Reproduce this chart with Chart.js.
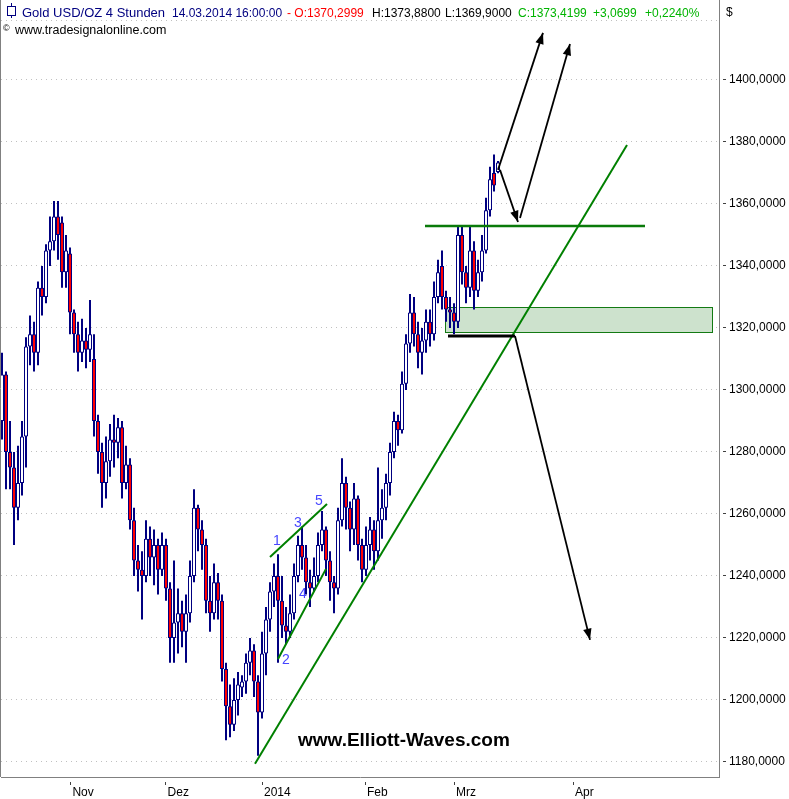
<!DOCTYPE html>
<html lang="de">
<head>
    <meta charset="UTF-8">
    <title>Gold USD/OZ 4 Stunden</title>
    <script src="https://cdn.jsdelivr.net/npm/chart.js"></script>
    <style>
        body { margin: 0; background: #fff; }
        #wrap { position: relative; width: 789px; height: 799px; overflow: hidden; font-family: 'Liberation Sans', Arial, sans-serif; font-size: 12px; }
        #chart { position: absolute; left: 0; top: 0; }
        .txt { position: absolute; white-space: pre; line-height: 1; }
        .wm { font-size: 19px; font-weight: bold; color: #000; }
        .icon { position: absolute; left: 7px; top: 3px; width: 10px; height: 15px; }
        .icon .w { position: absolute; left: 4px; top: 0; width: 1px; height: 15px; background: #000080; }
        .icon .b { position: absolute; left: 0; top: 3px; width: 7px; height: 8px; border: 1px solid #000080; background: #fff; }
    </style>
</head>
<body>
<div id="wrap">
    <canvas id="chart" width="789" height="799"></canvas>
    <div class="icon"><span class="w"></span><span class="b"></span></div>
    <div class="txt" style="left:22px;top:6px;font-size:13px;color:#000080">Gold USD/OZ 4 Stunden</div>
    <div class="txt" style="left:172px;top:7px;color:#000080">14.03.2014 16:00:00</div>
    <div class="txt" style="left:287px;top:7px;color:#ff0000">- O:1370,2999</div>
    <div class="txt" style="left:372px;top:7px;color:#000">H:1373,8800</div>
    <div class="txt" style="left:445px;top:7px;color:#000">L:1369,9000</div>
    <div class="txt" style="left:518px;top:7px;color:#00b400">C:1373,4199</div>
    <div class="txt" style="left:593px;top:7px;color:#00b400">+3,0699</div>
    <div class="txt" style="left:645px;top:7px;color:#00b400">+0,2240%</div>
    <div class="txt" style="left:726px;top:6px;color:#000">$</div>
    <div class="txt" style="left:3px;top:24px;font-size:9px;color:#000">©</div>
    <div class="txt" style="left:15px;top:24px;font-size:12.5px;color:#000">www.tradesignalonline.com</div>
    <div class="txt wm" style="left:298px;top:730px">www.Elliott-Waves.com</div>
</div>
<script>
    // 4h candles, one entry every few bars
    const candleOpen = [
        1290,1305,1280,1275,1262,1270,1285,1314,1318,1312,
        1333,1330,1345,1348,1356,1354,1338,1344,1325,1318,
        1312,1316,1313,1310,1290,1280,1270,1277,1284,1283,
        1288,1270,1276,1258,1245,1242,1240,1252,1246,1250,
        1242,1250,1236,1220,1225,1228,1222,1228,1240,1262,
        1255,1250,1232,1228,1238,1232,1210,1198,1192,1200,
        1204,1206,1212,1216,1206,1196,1215,1226,1235,1240,
        1232,1224,1222,1228,1240,1250,1246,1238,1236,1240,
        1250,1255,1245,1238,1236,1258,1270,1262,1255,1265,
        1250,1242,1250,1255,1248,1258,1262,1270,1280,1290,
        1287,1302,1315,1325,1318,1312,1316,1322,1318,1330,
        1340,1330,1326,1325,1322,1350,1338,1333,1345,1332,
        1338,1345,1358,1370,1370.2999
    ];
    const candleHigh = [
        1312,1306,1290,1280,1282,1290,1317,1324,1322,1335,
        1340,1347,1356,1361,1361,1356,1350,1346,1326,1322,
        1323,1320,1329,1318,1292,1283,1285,1289,1292,1291,
        1290,1282,1278,1262,1250,1248,1258,1256,1255,1252,
        1254,1252,1238,1245,1236,1232,1234,1245,1268,1263,
        1258,1252,1240,1244,1241,1234,1212,1205,1207,1209,
        1208,1215,1220,1218,1208,1222,1230,1238,1244,1247,
        1240,1230,1234,1244,1253,1256,1250,1242,1246,1254,
        1261,1256,1248,1240,1262,1278,1272,1264,1270,1266,
        1252,1256,1259,1258,1275,1268,1273,1283,1293,1292,
        1306,1318,1331,1330,1322,1320,1326,1326,1335,1342,
        1345,1332,1330,1328,1353,1353,1340,1353,1348,1342,
        1350,1362,1372,1376,1373.88
    ];
    const candleLow = [
        1284,1268,1268,1250,1258,1266,1275,1308,1306,1308,
        1324,1328,1340,1345,1342,1333,1333,1318,1312,1306,
        1309,1307,1309,1285,1273,1262,1265,1272,1275,1278,
        1265,1268,1255,1240,1235,1226,1238,1240,1237,1234,
        1240,1232,1212,1212,1215,1217,1212,1225,1238,1248,
        1242,1228,1222,1226,1226,1206,1187,1188,1190,1195,
        1201,1202,1208,1201,1182,1194,1208,1222,1230,1212,
        1220,1218,1220,1226,1238,1242,1234,1230,1235,1238,
        1248,1240,1232,1228,1234,1256,1255,1248,1250,1245,
        1238,1240,1245,1242,1245,1252,1258,1266,1278,1282,
        1286,1300,1312,1314,1307,1305,1312,1314,1316,1328,
        1326,1322,1320,1318,1320,1334,1328,1330,1326,1330,
        1335,1344,1356,1364,1369.9
    ];
    const candleClose = [
        1305,1280,1275,1262,1270,1285,1314,1318,1312,1333,
        1330,1345,1348,1356,1350,1338,1345,1325,1318,1312,
        1316,1313,1318,1290,1280,1270,1277,1284,1283,1288,
        1270,1276,1258,1245,1242,1240,1252,1246,1250,1242,
        1250,1236,1220,1225,1228,1222,1228,1240,1262,1255,
        1250,1232,1228,1238,1232,1210,1198,1192,1200,1205,
        1206,1212,1216,1206,1196,1215,1226,1235,1240,1232,
        1224,1222,1228,1240,1250,1246,1238,1236,1240,1250,
        1255,1245,1238,1236,1258,1270,1262,1255,1265,1250,
        1242,1250,1255,1248,1258,1262,1270,1280,1290,1287,
        1302,1315,1325,1318,1312,1316,1322,1318,1330,1338,
        1330,1326,1325,1322,1350,1338,1333,1345,1332,1338,
        1345,1358,1368,1366,1373.4199
    ];

    // axis labels
    const monthLabels = ['Nov', 'Dez', '2014', 'Feb', 'Mrz', 'Apr'];
    const monthTicks = [17.1, 40.9, 65, 90.75, 113, 142.75];
    const priceTicks = [1180, 1200, 1220, 1240, 1260, 1280, 1300, 1320, 1340, 1360, 1380, 1400];

    // drawings, in (bar, price)
    const trendLine = [[63.25, 1179.4], [156.25, 1379.0]];
    const resistLine = [[105.75, 1352.9], [160.75, 1352.9]];
    const wedgeTop = [[67, 1246.1], [81.25, 1263.2]];
    const wedgeBottom = [[69, 1213.2], [81, 1242.3]];
    const zoneBars = [110.75, 177.5];
    const zonePrices = [1318.7, 1326.8];
    const breakLine = [[111.5, 1317.4], [128.25, 1317.4]];
    const arrows = [
        [[124, 1371.0], [135.25, 1415.2]],
        [[124.5, 1371.0], [129, 1354.2]],
        [[129.5, 1355.5], [142, 1411.6]],
        [[128.25, 1317.4], [147, 1219.4]]
    ];
    const waveLabels = ['1', '2', '3', '4', '5'];
    const wavePos = [[68.75, 1251.3], [71, 1212.9], [74, 1257.1], [75.25, 1234.2], [79.25, 1264.2]];

    const NAVY = '#000080';
    const GREEN = '#0a7a0a';

    const bars = candleOpen.map((_, i) => i);
    const bodies = bars.map(i => ({ x: i, y: [candleOpen[i], candleClose[i]] }));
    const wicks = bars.map(i => ({ x: i, y: [candleLow[i], candleHigh[i]] }));
    const bodyColors = bars.map(i => candleClose[i] < candleOpen[i] ? '#ff0000' : '#ffffff');

    const toPts = arr => arr.map(p => ({ x: p[0], y: p[1] }));
    function lineSet(pts, width, color) {
        return { type: 'line', data: toPts(pts), borderColor: color, borderWidth: width, pointRadius: 0, order: -1, tension: 0 };
    }

    function drawArrow(ctx, x1, y1, x2, y2) {
        ctx.beginPath();
        ctx.moveTo(x1, y1);
        ctx.lineTo(x2, y2);
        ctx.stroke();
        const a = Math.atan2(y2 - y1, x2 - x1), L = 12, W = 0.36;
        ctx.beginPath();
        ctx.moveTo(x2, y2);
        ctx.lineTo(x2 - L * Math.cos(a - W), y2 - L * Math.sin(a - W));
        ctx.lineTo(x2 - L * Math.cos(a + W), y2 - L * Math.sin(a + W));
        ctx.closePath();
        ctx.fill();
    }

    const drawings = {
        id: 'drawings',
        beforeDatasetsDraw(chart) {
            const { ctx, chartArea: ca, scales: { x, y } } = chart;
            ctx.save();
            // header separator + frame
            ctx.strokeStyle = '#c0c0c0';
            ctx.setLineDash([1, 4]);
            ctx.beginPath();
            ctx.moveTo(ca.left, ca.top + 0.5);
            ctx.lineTo(ca.right, ca.top + 0.5);
            ctx.stroke();
            ctx.setLineDash([]);
            ctx.strokeStyle = '#808080';
            ctx.beginPath();
            ctx.moveTo(0.5, 0);
            ctx.lineTo(0.5, ca.bottom);
            ctx.moveTo(ca.right + 0.5, 0);
            ctx.lineTo(ca.right + 0.5, ca.top);
            ctx.stroke();
            // support zone
            const x0 = Math.round(x.getPixelForValue(zoneBars[0])) + 0.5;
            const x1 = Math.round(x.getPixelForValue(zoneBars[1])) + 0.5;
            const yTop = Math.round(y.getPixelForValue(zonePrices[1])) + 0.5;
            const yBot = Math.round(y.getPixelForValue(zonePrices[0])) + 0.5;
            ctx.fillStyle = '#cde2cd';
            ctx.fillRect(x0, yTop, x1 - x0, yBot - yTop);
            ctx.strokeStyle = '#137a13';
            ctx.lineWidth = 1;
            ctx.strokeRect(x0, yTop, x1 - x0, yBot - yTop);
            ctx.restore();
        },
        afterDatasetsDraw(chart) {
            const { ctx, scales: { x, y } } = chart;
            ctx.save();
            ctx.strokeStyle = '#000';
            ctx.fillStyle = '#000';
            ctx.lineWidth = 3;
            ctx.beginPath();
            ctx.moveTo(x.getPixelForValue(breakLine[0][0]), y.getPixelForValue(breakLine[0][1]));
            ctx.lineTo(x.getPixelForValue(breakLine[1][0]), y.getPixelForValue(breakLine[1][1]));
            ctx.stroke();
            ctx.lineWidth = 1.8;
            arrows.forEach(a => drawArrow(ctx,
                x.getPixelForValue(a[0][0]), y.getPixelForValue(a[0][1]),
                x.getPixelForValue(a[1][0]), y.getPixelForValue(a[1][1])));
            ctx.font = '14px "Liberation Sans", Arial, sans-serif';
            ctx.fillStyle = '#4646ff';
            ctx.textAlign = 'center';
            ctx.textBaseline = 'middle';
            waveLabels.forEach((t, i) => ctx.fillText(t, x.getPixelForValue(wavePos[i][0]), y.getPixelForValue(wavePos[i][1])));
            ctx.restore();
        }
    };

    Chart.defaults.font.family = '"Liberation Sans", Arial, sans-serif';
    Chart.defaults.font.size = 12;
    Chart.defaults.color = '#000';

    new Chart(document.getElementById('chart'), {
        type: 'bar',
        data: {
            datasets: [
                {
                    data: bodies, backgroundColor: bodyColors, borderColor: NAVY, borderWidth: 1,
                    borderSkipped: false, barThickness: 4, grouped: false, minBarLength: 1, inflateAmount: 0
                },
                {
                    data: wicks, backgroundColor: NAVY, borderWidth: 0,
                    barThickness: 2, grouped: false, inflateAmount: 0
                },
                lineSet(trendLine, 2, '#008000'),
                lineSet(resistLine, 2.5, GREEN),
                lineSet(wedgeTop, 2, '#008000'),
                lineSet(wedgeBottom, 2, '#008000')
            ]
        },
        options: {
            responsive: false,
            animation: false,
            devicePixelRatio: 1,
            layout: { padding: { left: 1, top: 20, right: 0, bottom: 0 } },
            plugins: { legend: { display: false }, tooltip: { enabled: false } },
            scales: {
                x: {
                    type: 'linear',
                    offset: false,
                    min: -0.25,
                    max: 179.25,
                    afterBuildTicks: s => { s.ticks = monthTicks.map(v => ({ value: v })); },
                    afterFit: s => { s.height = 22; },
                    grid: { offset: false, drawOnChartArea: false, tickColor: '#404040', tickLength: 8, tickBorderDash: [0, 4, 4, 20] },
                    border: { color: '#808080' },
                    ticks: {
                        autoSkip: false, maxRotation: 0, align: 'start', labelOffset: 2, padding: 0,
                        callback: (v, i) => monthLabels[i]
                    }
                },
                y: {
                    position: 'right',
                    min: 1175.16,
                    max: 1419.35,
                    afterBuildTicks: s => { s.ticks = priceTicks.map(v => ({ value: v })); },
                    afterFit: s => { s.width = 70; },
                    grid: { color: '#c0c0c0', tickColor: '#404040', tickLength: 7, tickBorderDash: [0, 3, 4, 20] },
                    border: { color: '#808080', dash: [1, 4] },
                    ticks: { padding: 3, callback: v => v.toFixed(4).replace('.', ',') }
                }
            }
        },
        plugins: [drawings]
    });
</script>
</body>
</html>
